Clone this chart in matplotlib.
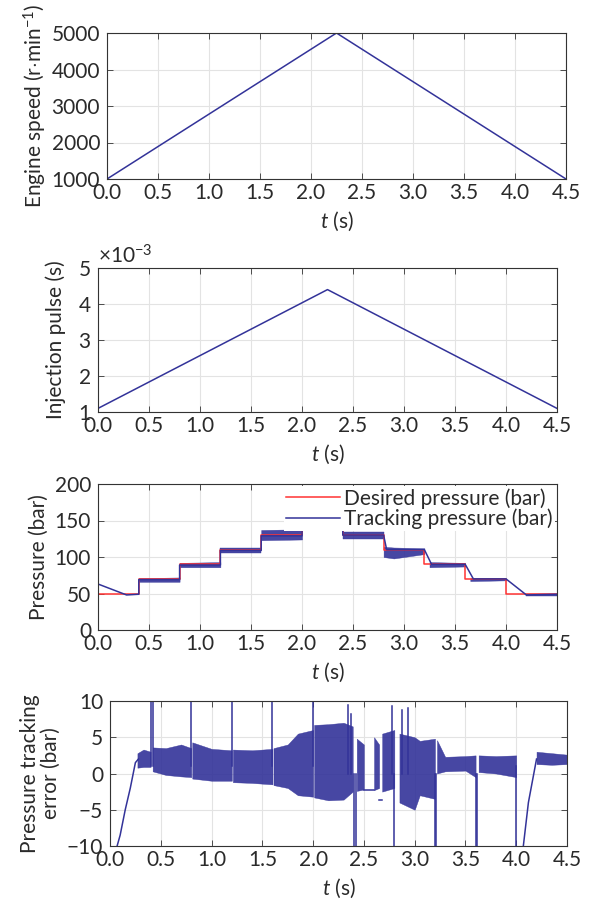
import matplotlib
matplotlib.use("Agg")
import matplotlib.pyplot as plt
import numpy as np
from matplotlib.ticker import FormatStrFormatter, ScalarFormatter

plt.rcParams['font.family'] = ['Lato', 'DejaVu Sans']
plt.rcParams['mathtext.fontset'] = 'custom'
plt.rcParams['mathtext.rm'] = 'Lato'
plt.rcParams['mathtext.it'] = 'Lato:italic'
plt.rcParams['font.size'] = 15

BLUE = '#333399'
RED = '#ff3333'

# engine speed and injection pulse (triangular profiles)
speed_t = [0.0, 2.25, 4.5]
speed_v = [1000, 5000, 1000]
pulse_t = [0.0, 2.25, 4.5]
pulse_v = [1.1e-3, 4.4e-3, 1.1e-3]

# desired pressure steps
desired_t = [0.0, 0.4, 0.8, 1.2, 1.6, 2.0, 2.4, 2.8, 3.2, 3.6, 4.0, 4.5]
desired_p = [50, 70, 90, 110, 130, 150, 130, 110, 90, 70, 50, 50]

# tracking pressure mean path
track_t = [0, 0, 0.28, 0.4, 0.4, 0.8, 0.8, 1.2, 1.2, 1.6, 1.6, 2.0, 2.0, 2.4, 2.4,
           2.8, 2.83, 3.2, 3.27, 3.6, 3.68, 4.0, 4.2, 4.5]
track_p = [0, 63, 48, 49, 69, 69, 89, 89, 109, 109, 129, 129, 150, 150, 130,
           130, 110, 110, 90, 90, 70, 70, 48, 49]
# tracking ripple envelope per step: (t, low, high)
track_bands = [
    [(0.40, 66, 71), (0.80, 66, 72)],
    [(0.80, 86, 92), (1.20, 86, 93)],
    [(1.20, 105, 113), (1.60, 105, 113)],
    [(1.60, 123, 137), (2.00, 124, 138)],
    [(2.00, 144, 156), (2.40, 144, 156)],
    [(2.40, 124, 134), (2.80, 124, 134)],
    [(2.80, 100, 114), (2.90, 98, 113), (3.20, 104, 112)],
    [(3.25, 86, 93), (3.60, 87, 92)],
    [(3.65, 67, 71), (4.00, 68, 71)],
    [(4.20, 47, 50), (4.50, 47, 50)],
]

# tracking error: ramps and flat parts
err_lines = [
    ([0.0, 0.0, 0.07, 0.10, 0.15, 0.20, 0.25, 0.28], [12, -12, -10, -8.5, -5, -2, 1.5, 2.0]),
    ([2.5, 2.6], [-2.3, -2.3]),
    ([2.65, 2.68], [-3.7, -3.7]),
    ([4.0, 4.0], [1.0, -12]),
    ([4.07, 4.12, 4.2], [-10, -4, 2.0]),
]
# error ripple envelope: (t, low, high)
err_bands = [
    [(0.27, 0.8, 2.8), (0.33, 0.9, 3.3), (0.40, 0.9, 3.0)],
    [(0.42, 0.3, 3.6), (0.55, -0.2, 3.5), (0.70, -0.4, 4.0), (0.80, -0.5, 3.5)],
    [(0.81, -0.7, 4.3), (1.00, -1.0, 3.4), (1.20, -1.0, 3.2)],
    [(1.21, -1.2, 3.3), (1.40, -1.3, 3.2), (1.60, -1.5, 3.4)],
    [(1.61, -1.6, 3.5), (1.75, -2.0, 4.0), (1.85, -3.0, 5.5), (2.00, -3.2, 6.0)],
    [(2.01, -3.3, 6.7), (2.15, -3.7, 6.8), (2.30, -3.6, 7.0), (2.39, -2.5, 6.5)],
    [(2.43, -2.4, 4.8), (2.50, -2.2, 4.0)],
    [(2.60, -2.3, 5.0), (2.65, -2.0, 4.0)],
    [(2.68, -2.5, 5.5), (2.80, -2.0, 6.0)],
    [(2.85, -4.0, 5.5), (3.00, -5.0, 5.0), (3.05, -3.0, 4.5), (3.20, -3.5, 4.8)],
    [(3.22, 0.0, 4.6), (3.30, 0.3, 2.3), (3.50, 0.4, 2.4), (3.60, -0.5, 2.5)],
    [(3.63, 0.2, 2.5), (3.80, 0.0, 2.4), (4.00, -0.5, 2.5)],
    [(4.20, 1.3, 3.0), (4.35, 1.2, 2.8), (4.50, 1.3, 2.6)],
]
# isolated spikes: (t, from, to)
err_spikes = [(0.40, 1, 12), (0.42, 1, 12), (0.80, 1, 12), (1.20, 1, 12), (1.60, 1, 12),
              (2.00, 1, 12), (2.34, 0, 9.5), (2.37, 0, 8.2), (2.78, 0, 9.3), (2.88, 0, 8.7),
              (2.93, 0, 9.0), (2.40, 0, -12), (2.42, 0, -12), (2.80, 0, -12),
              (3.20, 0, -12), (3.21, 0, -12), (3.60, 0, -12), (3.61, 0, -12)]

W, H = 590, 906
fig = plt.figure(figsize=(W / 100, H / 100), dpi=100)


def box(l, r, t, b):
    return [l / W, 1 - b / H, (r - l) / W, (b - t) / H]


def style(ax):
    ax.set_xlim(0, 4.5)
    ax.set_xticks(np.arange(0, 4.51, 0.5))
    ax.xaxis.set_major_formatter(FormatStrFormatter('%.1f'))
    ax.grid(True, color='#e3e3e3', lw=0.8)
    ax.set_axisbelow(True)
    ax.tick_params(direction='in', top=True, right=True, length=4, width=0.6,
                   color='#333333', labelcolor='#2a2a2a')
    ax.tick_params(axis='x', pad=3)
    ax.tick_params(axis='y', pad=5)
    for s in ax.spines.values():
        s.set_color('#333333')
        s.set_linewidth(0.8)
    ax.set_xlabel('$t$ (s)', labelpad=5, color='#2a2a2a')


ax1 = fig.add_axes(box(107, 566, 33, 179))
ax1.plot(speed_t, speed_v, color=BLUE, lw=1.1)
ax1.set_ylim(1000, 5000)
ax1.set_yticks([1000, 2000, 3000, 4000, 5000])
style(ax1)
ax1.set_ylabel('Engine speed (r$\\cdot$min$^{-1}$)', labelpad=2, color='#2a2a2a')

ax2 = fig.add_axes(box(98, 557, 268, 412))
ax2.plot(pulse_t, pulse_v, color=BLUE, lw=1.1)
ax2.set_ylim(1e-3, 5e-3)
ax2.set_yticks([1e-3, 2e-3, 3e-3, 4e-3, 5e-3])
fmt = ScalarFormatter(useMathText=True)
fmt.set_powerlimits((-2, 2))
ax2.yaxis.set_major_formatter(fmt)
style(ax2)
ax2.set_ylabel('Injection pulse (s)', labelpad=8, color='#2a2a2a')

ax3 = fig.add_axes(box(98, 557, 484, 630))
ax3.step(desired_t, desired_p, where='post', color=RED, lw=1.1, label='Desired pressure (bar)')
for seg in track_bands:
    tt, lo, hi = zip(*seg)
    ax3.fill_between(tt, lo, hi, color=BLUE, lw=0.3, alpha=0.9)
ax3.plot(track_t, track_p, color=BLUE, lw=1.1, label='Tracking pressure (bar)')
ax3.set_ylim(0, 200)
ax3.set_yticks([0, 50, 100, 150, 200])
style(ax3)
ax3.set_ylabel('Pressure (bar)', labelpad=4, color='#2a2a2a')
leg = ax3.legend(loc='upper right', bbox_to_anchor=(1.0, 1.0), borderaxespad=0.1,
                 frameon=True, fancybox=False, handlelength=2.6, handletextpad=0.2,
                 labelspacing=0.0, borderpad=0.1, fontsize=15)
leg.get_frame().set_edgecolor('none')
leg.get_frame().set_facecolor('white')
leg.get_frame().set_alpha(1)
for txt in leg.get_texts():
    txt.set_color('#2a2a2a')

ax4 = fig.add_axes(box(110, 567, 701, 846))
for seg in err_bands:
    tt, lo, hi = zip(*seg)
    ax4.fill_between(tt, lo, hi, color=BLUE, lw=0.3, alpha=0.9)
for tt, vv in err_lines:
    ax4.plot(tt, vv, color=BLUE, lw=1.1)
for ts, y0, y1 in err_spikes:
    ax4.plot([ts, ts], [y0, y1], color=BLUE, lw=1.1)
ax4.set_ylim(-10, 10)
ax4.set_yticks([-10, -5, 0, 5, 10])
style(ax4)
ax4.set_ylabel('Pressure tracking\nerror (bar)', labelpad=4, linespacing=1.1, color='#2a2a2a')

fig.savefig('out.png', dpi=100)
